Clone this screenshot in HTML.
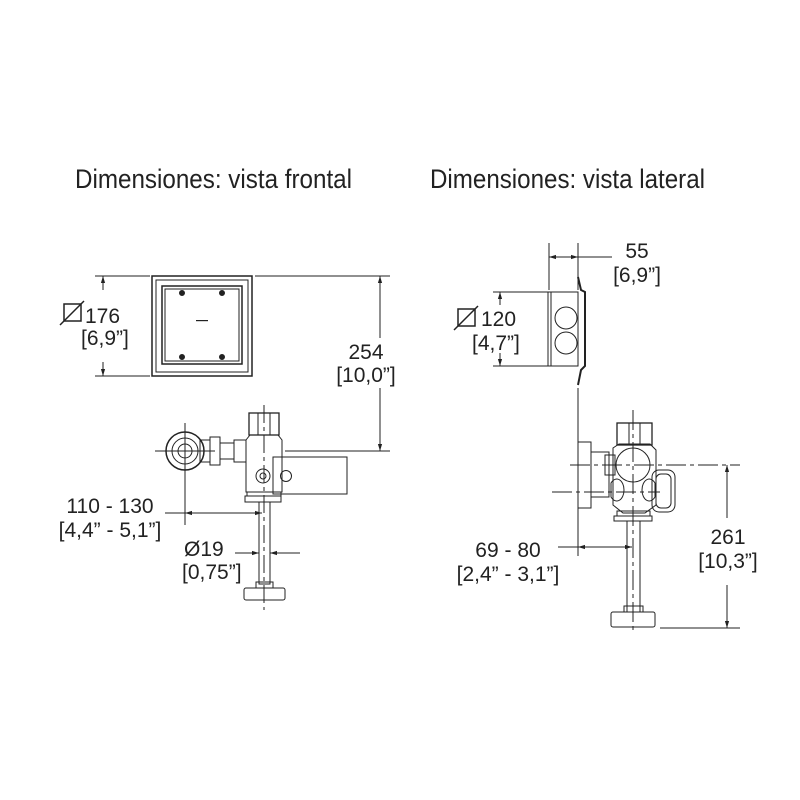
<!DOCTYPE html>
<html><head><meta charset="utf-8"><style>
html,body{margin:0;padding:0;background:#fff}
svg{display:block}
text{font-family:"Liberation Sans Narrow","Liberation Sans",sans-serif;fill:#222}
</style></head><body>
<svg width="800" height="800" viewBox="0 0 800 800" xmlns="http://www.w3.org/2000/svg">
<defs>
<marker id="a" viewBox="0 0 10 10" refX="10" refY="5" markerWidth="7" markerHeight="7" orient="auto-start-reverse"><path d="M0,2 L10,5 L0,8 z" fill="#222"/></marker>
</defs>
<text x="75" y="188" font-size="27" textLength="277" lengthAdjust="spacingAndGlyphs">Dimensiones: vista frontal</text>
<text x="430" y="188" font-size="27" textLength="275" lengthAdjust="spacingAndGlyphs">Dimensiones: vista lateral</text>

<g stroke="#222" fill="none" stroke-width="1">
<rect x="152" y="276" width="100" height="100" stroke-width="1.5"/>
<rect x="156" y="280" width="92" height="92"/>
<rect x="162" y="286" width="80" height="78" stroke-width="1.5"/>
<rect x="165" y="289" width="74" height="72"/>
<circle cx="182" cy="293" r="2.5" fill="#222"/><circle cx="222" cy="293" r="2.5" fill="#222"/>
<circle cx="182" cy="357" r="2.5" fill="#222"/><circle cx="222" cy="357" r="2.5" fill="#222"/>
<rect x="196" y="320" width="12" height="1.2" fill="#222" stroke="none"/>
<line x1="95" y1="276" x2="150" y2="276"/><line x1="95" y1="376" x2="150" y2="376"/>
<line x1="103" y1="290" x2="103" y2="276" marker-end="url(#a)"/>
<line x1="103" y1="362" x2="103" y2="376" marker-end="url(#a)"/>
<line x1="255" y1="276" x2="390" y2="276"/><line x1="285" y1="451" x2="390" y2="451"/>
<line x1="380" y1="338" x2="380" y2="276" marker-end="url(#a)"/>
<line x1="380" y1="388" x2="380" y2="451" marker-end="url(#a)"/>
<circle cx="185" cy="451" r="19" stroke-width="1.5"/>
<circle cx="185" cy="451" r="13"/><circle cx="185" cy="451" r="7"/>
<line x1="155" y1="451" x2="215" y2="451"/><line x1="185" y1="423" x2="185" y2="525"/>
<rect x="200" y="440" width="10" height="22"/>
<rect x="210" y="437" width="10" height="28"/>
<rect x="220" y="443" width="14" height="16"/>
<rect x="234" y="440" width="12" height="22"/>
<rect x="249" y="413" width="30" height="22" stroke-width="1.3"/>
<line x1="258" y1="413" x2="258" y2="435"/><line x1="270" y1="413" x2="270" y2="435"/>
<path d="M246,440 L250,435 L278,435 L282,440 L282,492 L246,492 Z"/>
<rect x="273" y="457" width="74" height="37"/>
<circle cx="286" cy="476" r="5.5"/>
<circle cx="263" cy="476" r="7"/><circle cx="263" cy="476" r="3"/>
<rect x="247" y="492" width="34" height="4"/>
<rect x="245" y="496" width="36" height="6"/>
<rect x="259" y="502" width="11" height="82"/>
<rect x="256" y="582" width="17" height="6"/>
<rect x="244" y="588" width="41" height="12" rx="2"/>
<line x1="264" y1="405" x2="264" y2="610" stroke-dasharray="18,4,4,4"/>
<line x1="165" y1="513" x2="185" y2="513"/>
<line x1="185" y1="513" x2="262" y2="513" marker-end="url(#a)" marker-start="url(#a)"/>
<line x1="235" y1="553" x2="259" y2="553" marker-end="url(#a)"/>
<line x1="300" y1="553" x2="270" y2="553" marker-end="url(#a)"/>

<line x1="549" y1="243" x2="549" y2="290"/><line x1="578" y1="243" x2="578" y2="290"/>
<line x1="549" y1="257" x2="578" y2="257" marker-end="url(#a)" marker-start="url(#a)"/>
<line x1="578" y1="257" x2="612" y2="257"/>
<rect x="548" y="292" width="30" height="74"/>
<line x1="551" y1="292" x2="551" y2="366"/>
<circle cx="566" cy="318" r="11"/><circle cx="566" cy="343" r="11"/>
<path d="M578,277 L581,290 L585,292 L585,366 L581,370 L578,385" stroke-width="2"/>
<line x1="493" y1="292" x2="548" y2="292"/><line x1="493" y1="366" x2="548" y2="366"/>
<line x1="500" y1="305" x2="500" y2="292" marker-end="url(#a)"/>
<line x1="500" y1="353" x2="500" y2="366" marker-end="url(#a)"/>
<line x1="578" y1="388" x2="578" y2="556"/>
<rect x="578" y="442" width="13" height="66"/>
<rect x="591" y="452" width="18" height="45"/>
<rect x="605" y="455" width="10" height="20"/>
<rect x="617" y="423" width="35" height="22" stroke-width="1.3"/>
<line x1="629" y1="423" x2="629" y2="445"/><line x1="640" y1="423" x2="640" y2="445"/>
<path d="M613,448 L619,444 L650,444 L656,450 L656,505 L645,513 L623,513 L613,505 Z"/>
<circle cx="633" cy="465" r="17"/>
<path d="M611,483 C616,475 624,480 624,490 C624,500 616,505 611,497 Z"/>
<path d="M655,483 C650,475 642,480 642,490 C642,500 650,505 655,497 Z"/>
<rect x="652" y="470" width="23" height="42" rx="7"/>
<rect x="656" y="474" width="15" height="34" rx="5"/>
<rect x="617" y="511" width="33" height="5"/>
<rect x="614" y="516" width="38" height="5"/>
<rect x="627" y="521" width="13" height="91"/>
<rect x="624" y="606" width="19" height="6"/>
<rect x="611" y="612" width="44" height="15" rx="2"/>
<line x1="570" y1="465" x2="740" y2="465" stroke-dasharray="20,4,4,4"/>
<line x1="552" y1="492" x2="660" y2="492" stroke-dasharray="20,4,4,4"/>
<line x1="633" y1="410" x2="633" y2="632" stroke-dasharray="20,4,4,4"/>
<line x1="660" y1="628" x2="740" y2="628"/>
<line x1="727" y1="518" x2="727" y2="465" marker-end="url(#a)"/>
<line x1="727" y1="585" x2="727" y2="628" marker-end="url(#a)"/>
<line x1="558" y1="547" x2="578" y2="547"/>
<line x1="578" y1="547" x2="632" y2="547" marker-end="url(#a)" marker-start="url(#a)"/>
</g>

<g font-size="21">
<text x="85" y="323">176</text>
<text x="81" y="345">[6,9”]</text>
<text x="366" y="359" text-anchor="middle">254</text>
<text x="366" y="382" text-anchor="middle">[10,0”]</text>
<text x="110" y="513" text-anchor="middle">110 - 130</text>
<text x="110" y="537" text-anchor="middle">[4,4” - 5,1”]</text>
<text x="184" y="556">Ø19</text>
<text x="182" y="579">[0,75”]</text>
<text x="637" y="258" text-anchor="middle">55</text>
<text x="637" y="282" text-anchor="middle">[6,9”]</text>
<text x="481" y="326">120</text>
<text x="472" y="350">[4,7”]</text>
<text x="508" y="557" text-anchor="middle">69 - 80</text>
<text x="508" y="581" text-anchor="middle">[2,4” - 3,1”]</text>
<text x="728" y="544" text-anchor="middle">261</text>
<text x="728" y="568" text-anchor="middle">[10,3”]</text>
</g>
<g stroke="#222" fill="none" stroke-width="1.5">
<rect x="64" y="304" width="17" height="17"/><line x1="60" y1="325" x2="84" y2="301"/>
<rect x="458" y="309" width="17" height="17"/><line x1="454" y1="330" x2="478" y2="306"/>
</g>
</svg>
</body></html>
